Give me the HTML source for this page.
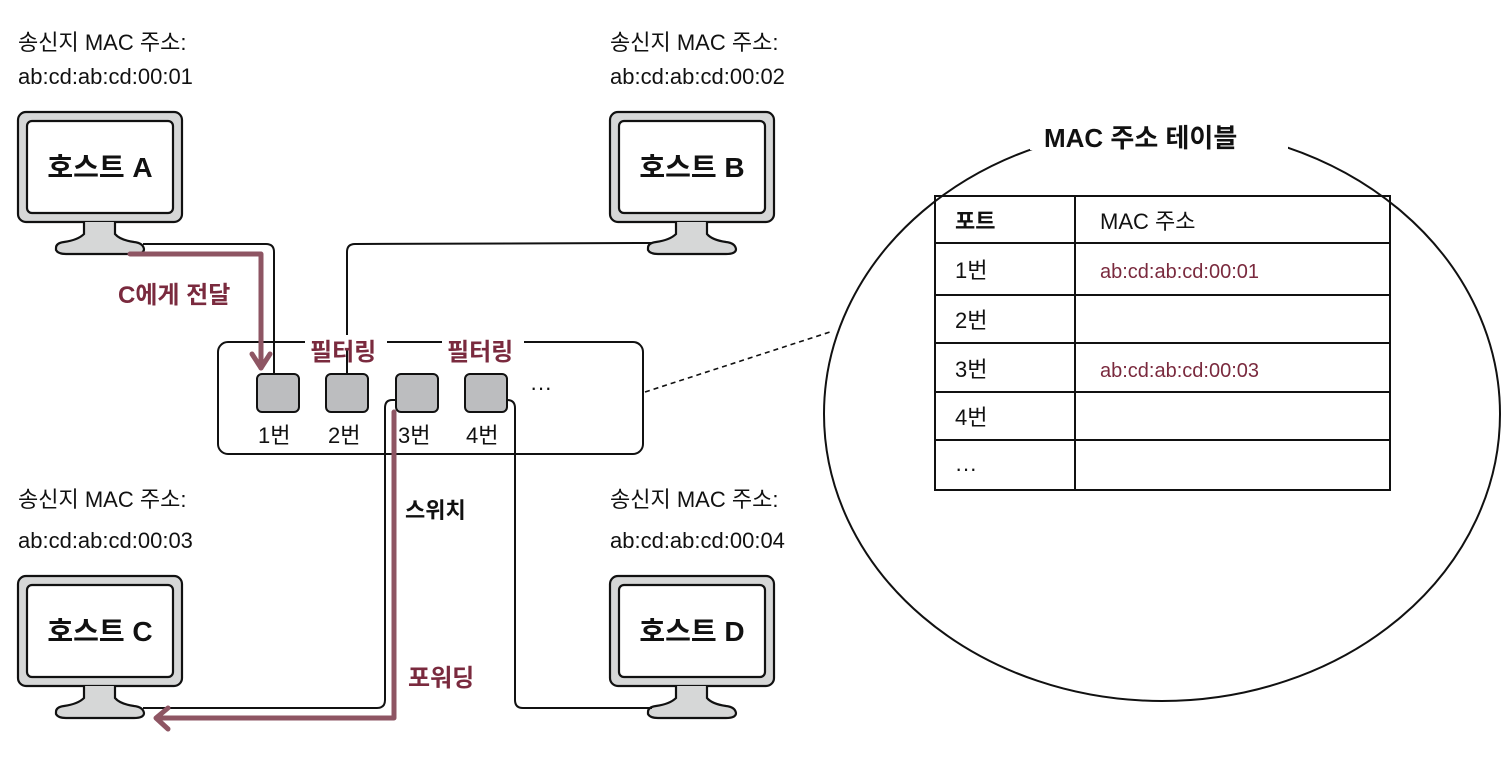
<!DOCTYPE html>
<html><head><meta charset="utf-8"><style>
html,body{margin:0;padding:0;background:#fff}
svg text{font-family:"Liberation Sans","Noto Sans CJK KR",sans-serif;}
</style></head><body>
<svg width="1510" height="758" viewBox="0 0 1510 758" xmlns="http://www.w3.org/2000/svg">
<defs>
<g id="mon">
  <rect x="0" y="0" width="164" height="110" rx="8" fill="#d6d7d7" stroke="#111" stroke-width="2.2"/>
  <rect x="9" y="9" width="146" height="92" rx="5" fill="#fff" stroke="#111" stroke-width="2.2"/>
  <path d="M66 110 L66 122 Q60 128 46 130 Q38 131 38 136 L38 138 Q40 142 48 142 L116 142 Q126 142 126 137 Q125 131 116 130 Q102 128 97 122 L97 110" fill="#d6d7d7" stroke="#111" stroke-width="2.2"/>
</g>
</defs>
<g font-size="22" fill="#111">
<text x="18" y="50">송신지 MAC 주소:</text><text x="18" y="84">ab:cd:ab:cd:00:01</text>
<text x="610" y="50">송신지 MAC 주소:</text><text x="610" y="84">ab:cd:ab:cd:00:02</text>
<text x="18" y="507">송신지 MAC 주소:</text><text x="18" y="548">ab:cd:ab:cd:00:03</text>
<text x="610" y="507">송신지 MAC 주소:</text><text x="610" y="548">ab:cd:ab:cd:00:04</text>
</g>
<use href="#mon" x="18" y="112"/><use href="#mon" x="610" y="112"/>
<use href="#mon" x="18" y="576"/><use href="#mon" x="610" y="576"/>
<g font-size="28" font-weight="bold" fill="#111" text-anchor="middle">
<text x="100" y="177">호스트 A</text><text x="692" y="177">호스트 B</text>
<text x="100" y="641">호스트 C</text><text x="692" y="641">호스트 D</text>
</g>
<!-- lines -->
<g fill="none" stroke="#111" stroke-width="2">
<path d="M143 244 L266 244 Q274 244 274 252 L274 374"/>
<path d="M347 374 L347 252 Q347 244 355 244 L652 243"/>
<path d="M396 400 L392 400 Q385 400 385 408 L385 700 Q385 708 377 708 L143 708"/>
<path d="M507 400 Q515 400 515 408 L515 700 Q515 708 523 708 L652 708"/>
<rect x="218" y="342" width="425" height="112" rx="10"/>
</g>
<g fill="#bcbdbf" stroke="#111" stroke-width="2">
<rect x="257" y="374" width="42" height="38" rx="5"/><rect x="326" y="374" width="42" height="38" rx="5"/>
<rect x="396" y="374" width="42" height="38" rx="5"/><rect x="465" y="374" width="42" height="38" rx="5"/>
</g>
<g font-size="22" fill="#111"><text x="258" y="443">1번</text><text x="328" y="443">2번</text><text x="398" y="443">3번</text><text x="466" y="443">4번</text>
<text x="530" y="395">···</text>
<text x="405" y="518" font-weight="bold">스위치</text></g>
<rect x="305" y="335" width="82" height="14" fill="#fff"/><rect x="442" y="335" width="82" height="14" fill="#fff"/>
<g font-size="24" fill="#7a2a3e" font-weight="bold">
<text x="310" y="360">필터링</text><text x="447" y="360">필터링</text>
<text x="118" y="303">C에게 전달</text><text x="408" y="686">포워딩</text></g>
<g fill="none" stroke="#8e5563" stroke-width="5" stroke-linejoin="round" stroke-linecap="round">
<path d="M130 254 L261 254 L261 368"/><path d="M252 354 L261 368 L270 354"/>
<path d="M394 412 L394 718 L158 718"/><path d="M168 708 L156 718 L168 729"/>
</g>
<!-- table ellipse -->
<path d="M645 392 L830 332" stroke="#111" stroke-width="1.6" stroke-dasharray="5,4" fill="none"/>
<ellipse cx="1162" cy="414" rx="338" ry="287" fill="#fff" stroke="#111" stroke-width="2"/>
<rect x="1030" y="120" width="258" height="30" fill="#fff"/>
<text x="1044" y="147" font-size="26" font-weight="bold" fill="#111">MAC 주소 테이블</text>
<g fill="none" stroke="#111" stroke-width="2">
<rect x="935" y="196" width="455" height="294"/>
<path d="M1075 196 V490 M935 243 H1390 M935 295 H1390 M935 343 H1390 M935 392 H1390 M935 440 H1390"/>
</g>
<g font-size="22" fill="#111">
<text x="955" y="229" font-weight="bold">포트</text><text x="1100" y="229">MAC 주소</text>
<text x="955" y="278">1번</text><text x="955" y="328">2번</text><text x="955" y="377">3번</text><text x="955" y="425">4번</text><text x="955" y="476">···</text>
</g>
<g font-size="20" fill="#7a2a3e"><text x="1100" y="278">ab:cd:ab:cd:00:01</text><text x="1100" y="377">ab:cd:ab:cd:00:03</text></g>
</svg>
</body></html>
